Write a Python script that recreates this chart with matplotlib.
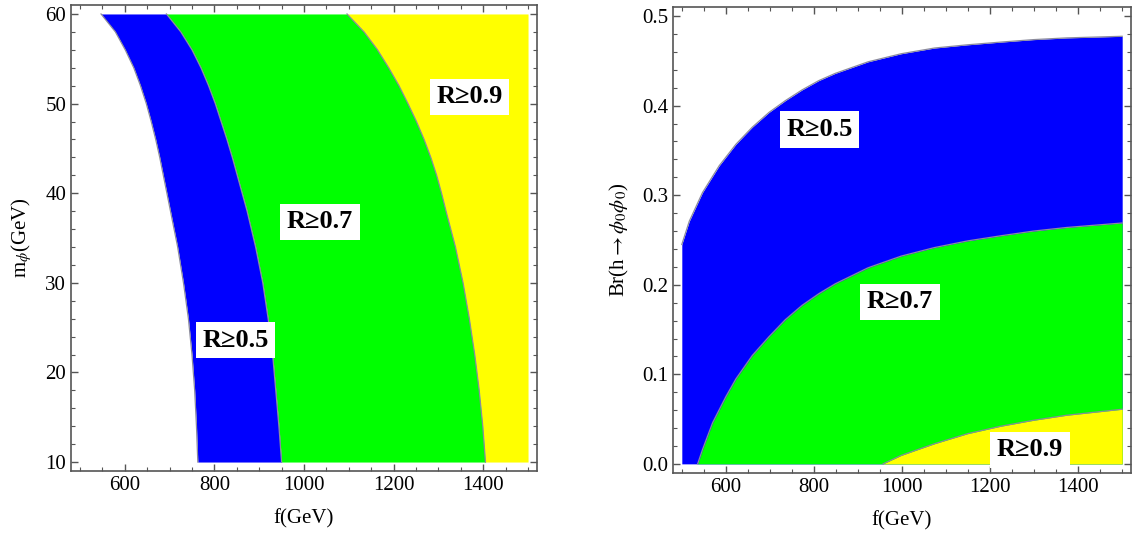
import numpy as np
import matplotlib
matplotlib.use('Agg')
import matplotlib.pyplot as plt
from matplotlib.ticker import MultipleLocator, FormatStrFormatter

plt.rcParams['font.family'] = ['Liberation Serif', 'DejaVu Serif']
plt.rcParams['mathtext.fontset'] = 'stix'

# Left panel: region edges f(GeV) as a function of m_phi(GeV)
m_phi = [10, 14, 18, 22, 26, 30, 34, 38, 40, 42, 44, 46, 48, 50, 52, 54, 56, 58, 60]
f_r05 = [763, 760, 756, 750, 742, 731, 718, 702, 694, 686, 678, 669, 659, 648,
         635, 620, 601, 579, 547]
f_r07 = [950, 944, 937, 930, 920, 908, 892, 873, 862, 851, 840, 828, 815, 802,
         787, 770, 750, 725, 693]
f_r09 = [1405, 1399, 1391, 1381, 1369, 1355, 1338, 1317, 1307, 1296, 1283, 1268,
         1251, 1232, 1212, 1189, 1164, 1134, 1096]
f_max = 1500

# Right panel: upper edge of Br(h->phi0 phi0) as a function of f(GeV)
f_b05 = [500, 517, 547, 585, 623, 660, 698, 735, 773, 811, 848, 923, 998, 1074,
         1149, 1224, 1299, 1374, 1500]
br_r05 = [0.245, 0.271, 0.303, 0.333, 0.357, 0.376, 0.3925, 0.4056, 0.4176, 0.428,
          0.436, 0.449, 0.458, 0.4644, 0.468, 0.471, 0.4738, 0.4757, 0.4775]
f_b07 = [536, 547, 570, 600, 623, 660, 698, 735, 773, 811, 848, 923, 998, 1074,
         1149, 1224, 1299, 1374, 1500]
br_r07 = [0.0, 0.016, 0.046, 0.075, 0.095, 0.121, 0.142, 0.161, 0.177, 0.190,
          0.201, 0.219, 0.232, 0.2416, 0.249, 0.2547, 0.260, 0.264, 0.269]
f_b09 = [957, 998, 1074, 1149, 1224, 1299, 1374, 1500]
br_r09 = [0.0, 0.0094, 0.0225, 0.0337, 0.042, 0.0487, 0.0543, 0.061]

labels = ['R\u22650.5', 'R\u22650.7', 'R\u22650.9']
left_label_pos = [(847, 23.6), (1036, 36.8), (1369, 50.75)]
right_label_pos = [(813, 0.3734), (995, 0.181), (1291, 0.0155)]

BLUE, GREEN, YELLOW = '#0000ff', '#00ff00', '#ffff00'
EDGE = '#8c8c9c'
FRAME = '#555555'


def style_axes(ax):
    for s in ax.spines.values():
        s.set_color(FRAME)
        s.set_linewidth(1.2)
    ax.tick_params(which='both', direction='in', top=True, right=True,
                   colors=FRAME, labelcolor='black', labelsize=15)
    ax.tick_params(which='major', length=5, width=1)
    ax.tick_params(which='minor', length=3, width=0.8)
    ax.xaxis.set_major_locator(MultipleLocator(200))
    ax.xaxis.set_minor_locator(MultipleLocator(50))
    ax.set_xlim(480, 1520)
    ax.set_xlabel('f(GeV)', fontsize=15, labelpad=10)


def put_label(ax, x, y, text):
    ax.text(x, y, text, fontsize=19, fontweight='bold', ha='center', va='center',
            bbox=dict(boxstyle='square,pad=0.25', fc='white', ec='none'), zorder=5)


fig = plt.figure(figsize=(11.35, 5.33), dpi=100)
ax1 = fig.add_axes([71 / 1135, 62 / 533, 466 / 1135, 466 / 533])
ax2 = fig.add_axes([673 / 1135, 60 / 533, 458 / 1135, 466 / 533])

# ---- left panel ----
ax1.fill_betweenx(m_phi, f_r05, f_r07, color=BLUE, lw=0)
ax1.fill_betweenx(m_phi, f_r07, f_r09, color=GREEN, lw=0)
ax1.fill_betweenx(m_phi, f_r09, f_max, color=YELLOW, lw=0)
for fb in (f_r05, f_r07, f_r09):
    ax1.plot(fb, m_phi, color=EDGE, lw=0.9)
style_axes(ax1)
ax1.set_ylim(9, 61)
ax1.yaxis.set_major_locator(MultipleLocator(10))
ax1.yaxis.set_minor_locator(MultipleLocator(2))
ax1.set_ylabel(r'm$_{\phi}$(GeV)', fontsize=15, labelpad=8)
for (x, y), t in zip(left_label_pos, labels):
    put_label(ax1, x, y, t)

# ---- right panel ----
ax2.fill_between(f_b05, 0, br_r05, color=BLUE, lw=0)
ax2.fill_between(f_b07, 0, br_r07, color=GREEN, lw=0)
ax2.fill_between(f_b09, 0, br_r09, color=YELLOW, lw=0)
for fb, br in ((f_b05, br_r05), (f_b07, br_r07), (f_b09, br_r09)):
    ax2.plot(fb, br, color=EDGE, lw=0.9)
style_axes(ax2)
ax2.set_ylim(-0.0102, 0.5102)
ax2.yaxis.set_major_locator(MultipleLocator(0.1))
ax2.yaxis.set_minor_locator(MultipleLocator(0.02))
ax2.yaxis.set_major_formatter(FormatStrFormatter('%.1f'))
ax2.set_ylabel(r'Br(h$\rightarrow\phi_0\phi_0$)', fontsize=15, labelpad=8)
for (x, y), t in zip(right_label_pos, labels):
    put_label(ax2, x, y, t)

fig.savefig('out.png', dpi=100)
